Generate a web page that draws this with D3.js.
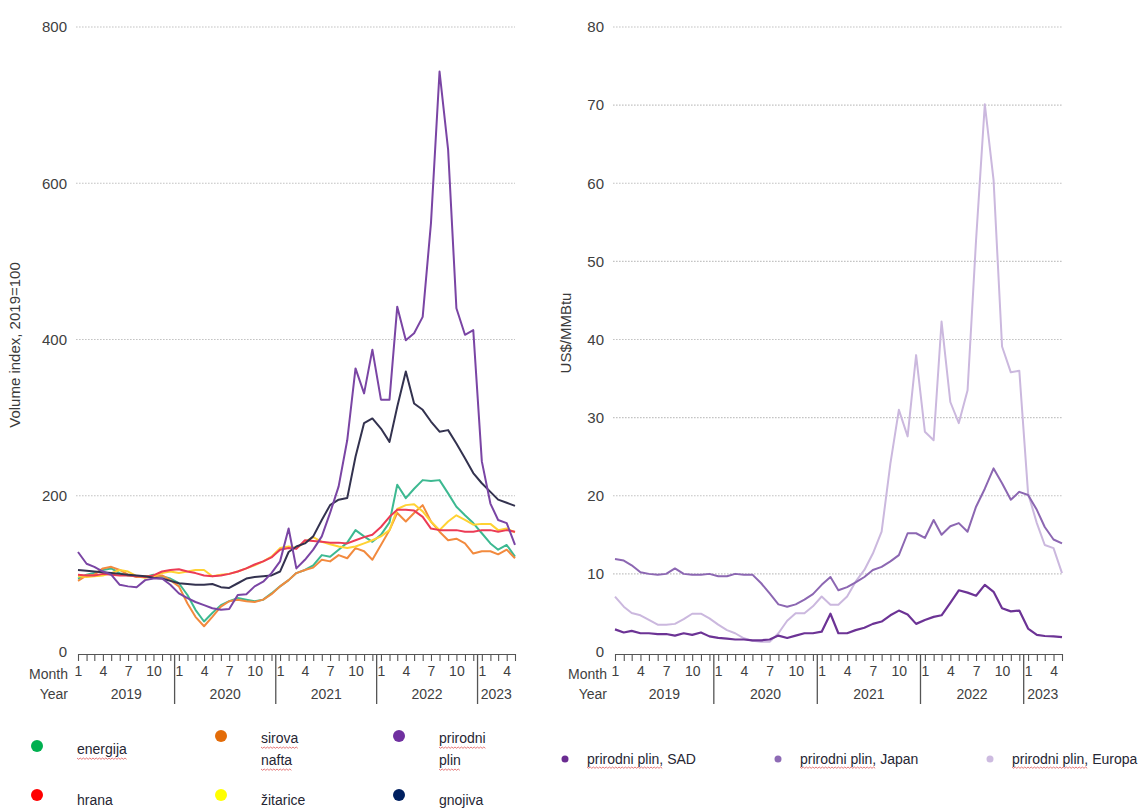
<!DOCTYPE html>
<html>
<head>
<meta charset="utf-8">
<script src="https://cdn.jsdelivr.net/npm/d3@7"></script>
<style>
  body { margin: 0; background: #fff; }
  svg { display: block; font-family: "Liberation Sans", Arial, sans-serif; }
</style>
</head>
<body>
<svg id="chart" width="1140" height="808"></svg>
<script>
// Jan 2019 .. May 2023, one value per month
var dates = d3.timeMonth.range(new Date(2019, 0, 1), new Date(2023, 5, 1));
var years = ["2019", "2020", "2021", "2022", "2023"];
var monthLabels = [1, 4, 7, 10];

// left panel, volume index 2019=100
var energija = [94,99,101,105,107,101,98,97,96,99,97,94, 88,73,54,39,50,60,65,69,67,65,67,75,
  84,92,101,105,111,124,122,131,140,156,148,141, 150,166,214,197,209,220,219,220,203,186,175,165,
  152,139,131,137,122];
var sirovaNafta = [91,98,99,107,109,105,99,96,97,97,98,92, 84,62,45,33,45,58,65,67,65,64,67,74,
  84,92,101,105,108,118,116,124,120,133,129,118, 137,156,178,167,178,188,167,154,143,145,139,126,
  129,129,125,131,120];
var prirodniPlin = [128,113,109,103,99,86,84,83,92,94,94,86, 75,69,64,60,56,54,55,73,74,84,90,101,
  116,158,107,118,131,148,178,212,271,363,331,387, 323,323,442,399,408,429,549,743,643,440,406,412,
  244,190,169,165,137];
var hrana = [99,98,98,100,99,98,98,97,96,98,103,105, 106,103,101,98,97,98,100,103,107,112,116,121,
  131,133,132,143,142,141,140,140,139,143,147,150, 160,173,182,182,181,173,158,156,156,156,154,154,
  156,156,154,156,154];
var zitarice = [97,96,97,98,101,105,103,97,95,97,101,103, 101,103,105,105,97,99,100,103,107,111,116,122,
  133,135,133,141,147,141,138,135,133,135,139,143, 148,156,183,188,189,180,167,156,167,175,169,163,
  164,164,156,158,153];
var gnojiva = [105,104,103,102,101,100,99,98,97,95,94,91, 88,87,86,86,87,83,82,88,94,96,97,98,
  103,128,135,139,148,169,188,195,197,250,293,299, 286,269,314,359,318,310,295,282,284,267,248,229,
  216,205,195,191,187];

// right panel, US$/MMBtu
var plinSAD = [2.9,2.5,2.7,2.4,2.4,2.3,2.3,2.1,2.4,2.2,2.5,2.0, 1.8,1.7,1.6,1.6,1.5,1.5,1.6,2.1,1.8,2.1,2.4,2.4,
  2.6,4.9,2.4,2.4,2.8,3.1,3.6,3.9,4.7,5.3,4.8,3.6, 4.1,4.5,4.7,6.3,7.9,7.6,7.2,8.6,7.7,5.6,5.2,5.3,
  3.0,2.2,2.05,2.0,1.9];
var plinJapan = [11.9,11.7,11.1,10.2,10.0,9.9,10.0,10.7,10.0,9.9,9.9,10.0, 9.7,9.7,10.0,9.9,9.9,8.8,7.5,6.1,5.8,6.1,6.7,7.4,
  8.6,9.6,7.9,8.3,8.9,9.6,10.5,10.9,11.6,12.4,15.2,15.2, 14.6,16.9,15.0,16.1,16.5,15.4,18.6,20.9,23.5,21.6,19.5,20.5,
  20.1,18.2,16.0,14.4,13.9];
var plinEuropa = [7.1,5.8,5.0,4.7,4.1,3.5,3.5,3.6,4.2,4.9,4.9,4.3, 3.5,2.8,2.4,1.75,1.45,1.3,1.3,2.4,4.0,4.95,4.95,5.85,
  7.1,6.05,6.05,7.1,9.0,10.5,12.6,15.4,24.1,31.0,27.6,38.0, 28.2,27.1,42.3,32.0,29.3,33.5,52.7,70.1,60.4,39.1,35.8,36.0,
  20.3,16.5,13.7,13.3,10.1];

var svg = d3.select("#chart");
var plotTop = 27, plotBottom = 652;

function squiggle(g, x, y, w) {
  var pts = [];
  for (var t = 0, k = 0; t <= w; t += 1.6, k++) pts.push([x + t, y + (k % 2 ? 1.3 : 0)]);
  g.append("path").attr("d", d3.line()(pts))
    .attr("fill", "none").attr("stroke", "#e26a6a").attr("stroke-width", 0.9);
}

function panel(cfg) {
  var g = svg.append("g");
  var x = d3.scaleTime().domain([dates[0], dates[dates.length - 1]]).range([cfg.x0, cfg.x1]);
  var y = d3.scaleLinear().domain([0, cfg.yMax]).range([plotBottom, plotTop]);

  // dotted grid
  g.append("g").selectAll("line")
    .data(cfg.yTicks.filter(function(d) { return d > 0; }))
    .enter().append("line")
    .attr("x1", cfg.x0 - 2).attr("x2", cfg.x1)
    .attr("y1", function(d) { return y(d); }).attr("y2", function(d) { return y(d); })
    .attr("stroke", "#c4c4c4").attr("stroke-width", 1.2).attr("stroke-dasharray", "1.6,1.4");

  // y labels
  var ya = g.append("g")
    .attr("transform", "translate(" + (cfg.x0 - 9) + ",0)")
    .call(d3.axisLeft(y).tickValues(cfg.yTicks).tickSize(0).tickPadding(2));
  ya.select(".domain").remove();
  ya.selectAll("text").attr("font-size", 15).attr("fill", "#404040")
    .attr("font-family", "Liberation Sans, Arial, sans-serif");

  g.append("text")
    .attr("transform", "translate(" + cfg.titleX + "," + cfg.titleY + ") rotate(-90)")
    .attr("text-anchor", "middle").attr("font-size", 15).attr("fill", "#3a3a3a")
    .text(cfg.title);

  // month axis
  var axisY = plotBottom + 2;
  var xa = g.append("g")
    .attr("transform", "translate(0," + axisY + ")")
    .call(d3.axisBottom(x).tickValues(dates).tickSize(7).tickSizeOuter(0).tickPadding(5)
      .tickFormat(function(d) {
        var m = d.getMonth() + 1;
        return monthLabels.indexOf(m) >= 0 ? m : "";
      }));
  xa.select(".domain").attr("stroke", "#555").attr("stroke-width", 1.2);
  xa.selectAll(".tick line").attr("stroke", "#555").attr("stroke-width", 1.1);
  xa.selectAll("text").attr("font-size", 14).attr("fill", "#3f3f3f")
    .attr("font-family", "Liberation Sans, Arial, sans-serif");

  // year separators and labels
  var step = x(dates[1]) - x(dates[0]);
  var bounds = [cfg.x0];
  years.forEach(function(yr, i) {
    if (i > 0) bounds.push(x(new Date(+yr, 0, 1)) - step / 2);
  });
  bounds.push(cfg.x1);
  g.append("g").selectAll("line").data(bounds.slice(1, -1)).enter().append("line")
    .attr("x1", function(d) { return d; }).attr("x2", function(d) { return d; })
    .attr("y1", axisY).attr("y2", axisY + 50)
    .attr("stroke", "#555").attr("stroke-width", 1.3);
  g.append("g").selectAll("text").data(years).enter().append("text")
    .attr("x", function(d, i) { return (bounds[i] + bounds[i + 1]) / 2; })
    .attr("y", 699).attr("text-anchor", "middle").attr("font-size", 14).attr("fill", "#3f3f3f")
    .text(function(d) { return d; });

  g.append("text").attr("x", cfg.labelRight).attr("y", 679).attr("text-anchor", "end")
    .attr("font-size", 14).attr("fill", "#3f3f3f").text("Month");
  g.append("text").attr("x", cfg.labelRight).attr("y", 699).attr("text-anchor", "end")
    .attr("font-size", 14).attr("fill", "#3f3f3f").text("Year");

  var line = d3.line()
    .x(function(d, i) { return x(dates[i]); })
    .y(function(d) { return y(d); });

  g.append("g").selectAll("path").data(cfg.series).enter().append("path")
    .attr("d", function(s) { return line(s.values); })
    .attr("fill", "none")
    .attr("stroke", function(s) { return s.color; })
    .attr("stroke-width", function(s) { return s.width || 2; })
    .attr("stroke-linejoin", "round");
}

panel({
  x0: 78, x1: 515, yMax: 800, yTicks: [0, 200, 400, 600, 800],
  title: "Volume index, 2019=100", titleX: 20, titleY: 345, labelRight: 68,
  series: [
    {values: energija, color: "#3db991"},
    {values: sirovaNafta, color: "#f28a3e"},
    {values: zitarice, color: "#ffd233"},
    {values: hrana, color: "#ec3b55"},
    {values: gnojiva, color: "#33324f"},
    {values: prirodniPlin, color: "#7a45a4"}
  ]
});

panel({
  x0: 615, x1: 1062, yMax: 80, yTicks: [0, 10, 20, 30, 40, 50, 60, 70, 80],
  title: "US$/MMBtu", titleX: 571, titleY: 333, labelRight: 607,
  series: [
    {values: plinEuropa, color: "#cbb8de"},
    {values: plinJapan, color: "#8c67b2"},
    {values: plinSAD, color: "#6c3395", width: 2.2}
  ]
});

// left legend
var legL = svg.append("g").attr("font-size", 14).attr("fill", "#262633");
var itemsL = [
  {lines: ["energija"], color: "#00b050", x: 37, y: 746, ty: [750]},
  {lines: ["sirova", "nafta"], color: "#e36c09", x: 221, y: 736, ty: [739, 761]},
  {lines: ["prirodni", "plin"], color: "#7030a0", x: 399, y: 736, ty: [739, 761]},
  {lines: ["hrana"], color: "#ff0000", x: 37, y: 795, ty: [801]},
  {lines: ["žitarice"], color: "#ffff00", x: 221, y: 795, ty: [801]},
  {lines: ["gnojiva"], color: "#002060", x: 399, y: 795, ty: [801]}
];
itemsL.forEach(function(it) {
  legL.append("circle").attr("cx", it.x).attr("cy", it.y).attr("r", 6).attr("fill", it.color);
  it.lines.forEach(function(t, i) {
    var tx = legL.append("text").attr("x", it.x + 40).attr("y", it.ty[i])
      .attr("dominant-baseline", "middle").text(t);
    squiggle(legL, it.x + 40, it.ty[i] + 8, tx.node().getComputedTextLength());
  });
});

// right legend
var legR = svg.append("g").attr("font-size", 14).attr("fill", "#262633")
  .attr("font-family", "Liberation Sans Narrow, Arial Narrow, Liberation Sans, sans-serif");
var itemsR = [
  {label: "prirodni plin, SAD", color: "#6a2c91", x: 565},
  {label: "prirodni plin, Japan", color: "#8e6bb5", x: 778},
  {label: "prirodni plin, Europa", color: "#cdbbe0", x: 990}
];
itemsR.forEach(function(it) {
  legR.append("circle").attr("cx", it.x).attr("cy", 759).attr("r", 3.5).attr("fill", it.color);
  legR.append("text").attr("x", it.x + 22).attr("y", 764).text(it.label);
  var probe = legR.append("text").attr("x", -500).attr("y", -500).text("prirodni plin,");
  var w = probe.node().getComputedTextLength();
  probe.remove();
  squiggle(legR, it.x + 22, 767, w);
});
</script>
</body>
</html>
